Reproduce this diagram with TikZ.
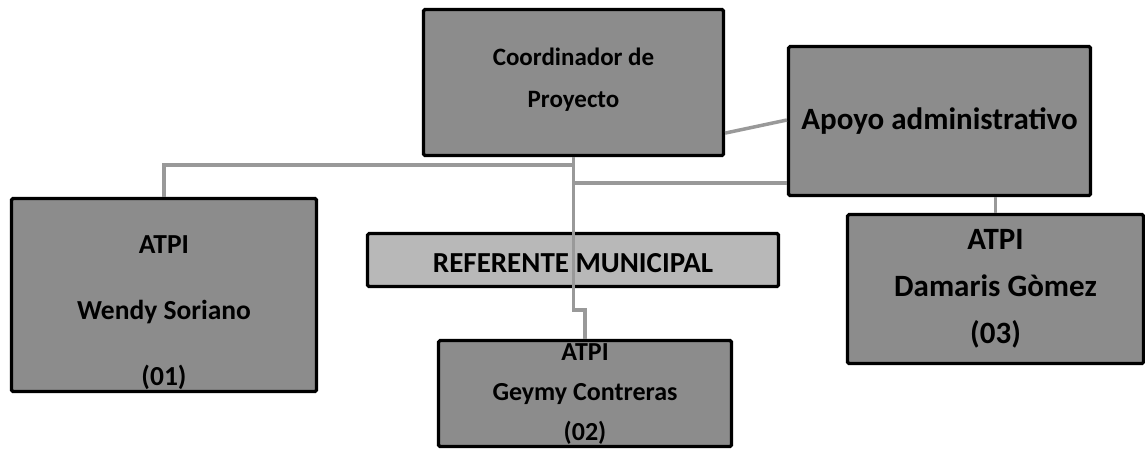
\documentclass[tikz,border=0pt]{standalone}
\usepackage{fontspec}
\setmainfont{Carlito}
\usepackage{tikz}
\usetikzlibrary{calc}
\definecolor{boxgray}{rgb}{0.55, 0.55, 0.55}
\definecolor{refgray}{rgb}{0.72, 0.72, 0.72}
\definecolor{linkgray}{rgb}{0.60, 0.60, 0.60}
\tikzset{
	card/.style={draw=black, line width=3.2pt, fill=boxgray, rounded corners=1.5pt, inner sep=0pt},
	cardtext/.style={align=center, font=\bfseries, inner sep=0pt},
	link/.style={linkgray, line width=3.5pt}
}

\begin{document}
\begin{tikzpicture}[x=1pt, y=-1pt]
	\useasboundingbox (0,0) rectangle (1145,451);

	\coordinate (c) at (573.5, 82.5);
	\node[card, minimum width=300pt, minimum height=146pt] (coord) at (c) {};
	\node[cardtext, font=\bfseries\fontsize{25}{42}\selectfont] (coordtext) at ([yshift=3pt]coord.center) {Coordinador de\\Proyecto};

	\coordinate (a) at (939.5, 121);
	\node[card, minimum width=302pt, minimum height=149pt] (apoyo) at (a) {};
	\node[cardtext, font=\bfseries\fontsize{31}{37}\selectfont] (apoyotext) at (apoyo.center) {Apoyo administrativo};

	\coordinate (w) at (164, 295);
	\node[card, minimum width=305pt, minimum height=193pt] (wendy) at (w) {};
	\node[cardtext, font=\bfseries\fontsize{27.5}{66}\selectfont] (wendytext) at ([yshift=-18pt]wendy.center) {ATPI\\Wendy Soriano\\(01)};

	\coordinate (r) at (573, 260);
	\node[card, fill=refgray, minimum width=411pt, minimum height=53pt] (ref) at (r) {};
	\node[cardtext, font=\bfseries\fontsize{29}{35}\selectfont] (reftext) at ([yshift=-3pt]ref.center) {REFERENTE MUNICIPAL};

	\coordinate (g) at (585, 393.5);
	\node[card, minimum width=293pt, minimum height=106pt] (geymy) at (g) {};
	\node[cardtext, font=\bfseries\fontsize{26}{40}\selectfont] (geymytext) at ([yshift=-1pt]geymy.center) {ATPI\\Geymy Contreras\\(02)};

	\coordinate (d) at (995.5, 289);
	\node[card, minimum width=296pt, minimum height=149pt] (damaris) at (d) {};
	\node[cardtext, font=\bfseries\fontsize{31}{47}\selectfont] (damaristext) at (damaris.center) {ATPI\\Damaris Gòmez\\(03)};

	\coordinate (jw) at ([yshift=-8pt]coord.south);
	\coordinate (ja) at ([yshift=14pt]apoyo.south west);

	\draw[link] ([yshift=24pt]coord.south east) -- ([yshift=1pt]apoyo.west);
	\draw[link] (coord.south) -- ++(0,153) -| (geymy.north);
	\draw[link] (wendy.north) |- (jw);
	\draw[link] (ja) -- (ja -| coord.south);
	\draw[link] (damaris.north) -- (damaris.north |- apoyo.south);
\end{tikzpicture}
\end{document}
